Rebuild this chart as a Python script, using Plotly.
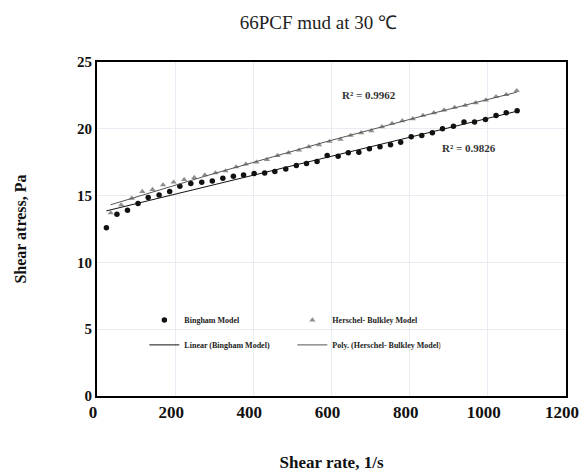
import numpy as np
import plotly.graph_objects as go

# Shear rate (1/s) and shear stress (Pa) readings
bingham_rate = [24, 51, 78, 105, 131, 159, 186, 212, 240, 268,
                295, 322, 349, 375, 402, 429, 455, 483, 510, 536,
                563, 589, 617, 643, 670, 697, 724, 751, 777, 804,
                831, 858, 884, 912, 939, 966, 994, 1021, 1047, 1075]
bingham_stress = [12.6, 13.6, 13.9, 14.4, 14.85, 15.05, 15.3, 15.7, 15.9, 16.0,
                  16.1, 16.3, 16.45, 16.55, 16.65, 16.7, 16.8, 17.0, 17.25, 17.4,
                  17.55, 18.0, 17.95, 18.2, 18.25, 18.5, 18.65, 18.8, 19.0, 19.4,
                  19.5, 19.7, 20.0, 20.2, 20.5, 20.5, 20.7, 21.0, 21.2, 21.35]

hb_rate = [35, 62, 89, 116, 142, 169, 196, 223, 249, 276,
           303, 329, 356, 381, 408, 435, 462, 490, 517, 542,
           568, 595, 623, 649, 676, 702, 729, 755, 781, 808,
           834, 862, 888, 915, 942, 969, 995, 1021, 1047, 1074]
hb_stress = [13.7, 14.3, 14.8, 15.3, 15.45, 15.8, 16.0, 16.2, 16.35, 16.55,
             16.7, 16.85, 17.15, 17.35, 17.5, 17.7, 18.0, 18.2, 18.4, 18.65,
             18.8, 19.05, 19.2, 19.5, 19.7, 19.85, 20.15, 20.4, 20.6, 20.75,
             21.0, 21.2, 21.4, 21.6, 21.75, 21.95, 22.15, 22.4, 22.55, 22.85]

r2_bingham = "R² = 0.9826"
r2_hb = "R² = 0.9962"

x_ticks = [0, 200, 400, 600, 800, 1000, 1200]
y_ticks = [0, 5, 10, 15, 20, 25]

# Trendlines: linear for Bingham, 2nd-order polynomial for Herschel-Bulkley
bx = np.array(bingham_rate, dtype=float)
hx = np.array(hb_rate, dtype=float)
lin = np.polyval(np.polyfit(bx, bingham_stress, 1), bx)
poly = np.polyval(np.polyfit(hx, hb_stress, 2), hx)

SERIF = "Liberation Serif, Times New Roman, serif"

fig = go.Figure()
fig.add_trace(go.Scatter(
    x=bingham_rate, y=bingham_stress, mode="markers", name="Bingham Model",
    marker=dict(symbol="circle", size=5.5, color="#111111"), legend="legend"))
fig.add_trace(go.Scatter(
    x=hb_rate, y=hb_stress, mode="markers", name="Herschel- Bulkley Model",
    marker=dict(symbol="triangle-up", size=5.5, color="#8e8e8e"), legend="legend"))
fig.add_trace(go.Scatter(
    x=bingham_rate, y=lin, mode="lines", name="Linear (Bingham Model)",
    line=dict(color="#111111", width=1), legend="legend2"))
fig.add_trace(go.Scatter(
    x=hb_rate, y=poly, mode="lines", name="Poly. (Herschel- Bulkley Model)",
    line=dict(color="#555555", width=1), legend="legend2"))

fig.add_annotation(x=696, y=22.5, text=r2_hb, showarrow=False,
                   font=dict(family=SERIF, size=11, color="#333333", weight="bold"))
fig.add_annotation(x=951, y=18.6, text=r2_bingham, showarrow=False,
                   font=dict(family=SERIF, size=11, color="#333333", weight="bold"))

legend_common = dict(
    orientation="h", xanchor="left", yanchor="middle",
    bgcolor="rgba(0,0,0,0)", borderwidth=0,
    font=dict(family=SERIF, size=8, color="#222222", weight="bold"),
    entrywidth=103, entrywidthmode="pixels", itemwidth=30,
)

fig.update_layout(
    width=579, height=472,
    margin=dict(l=97, r=13, t=62, b=76, autoexpand=False),
    paper_bgcolor="white", plot_bgcolor="white",
    title=dict(text="66PCF mud at 30 ℃", x=0.55, xanchor="center", y=0.953, yanchor="middle",
               font=dict(family=SERIF, size=19, color="#222222")),
    legend=dict(x=0.101, y=0.2275, **legend_common),
    legend2=dict(x=0.101, y=0.153, **legend_common),
    xaxis=dict(
        range=[0, 1200], tickvals=x_ticks, ticktext=[str(v) for v in x_ticks],
        showgrid=True, gridcolor="#e9ecf3", gridwidth=1,
        showline=True, linecolor="black", linewidth=2, mirror=True,
        zeroline=False, ticks="", ticklabeloverflow="allow", ticklabelshift=-4,
        automargin=False,
        tickfont=dict(family=SERIF, size=17, color="#111111", weight="bold"),
        title=dict(text="Shear rate, 1/s", standoff=40,
                   font=dict(family=SERIF, size=17, color="#111111", weight="bold")),
    ),
    yaxis=dict(
        range=[0, 25], tickvals=y_ticks, ticktext=[str(v) for v in y_ticks],
        showgrid=True, gridcolor="#e9ecf3", gridwidth=1,
        showline=True, linecolor="black", linewidth=2, mirror=True,
        zeroline=False, ticks="", automargin=False,
        tickfont=dict(family=SERIF, size=15, color="#111111", weight="bold"),
        title=dict(text="Shear atress, Pa", standoff=46,
                   font=dict(family=SERIF, size=16, color="#111111", weight="bold")),
    ),
)

fig.write_html("out.html")
